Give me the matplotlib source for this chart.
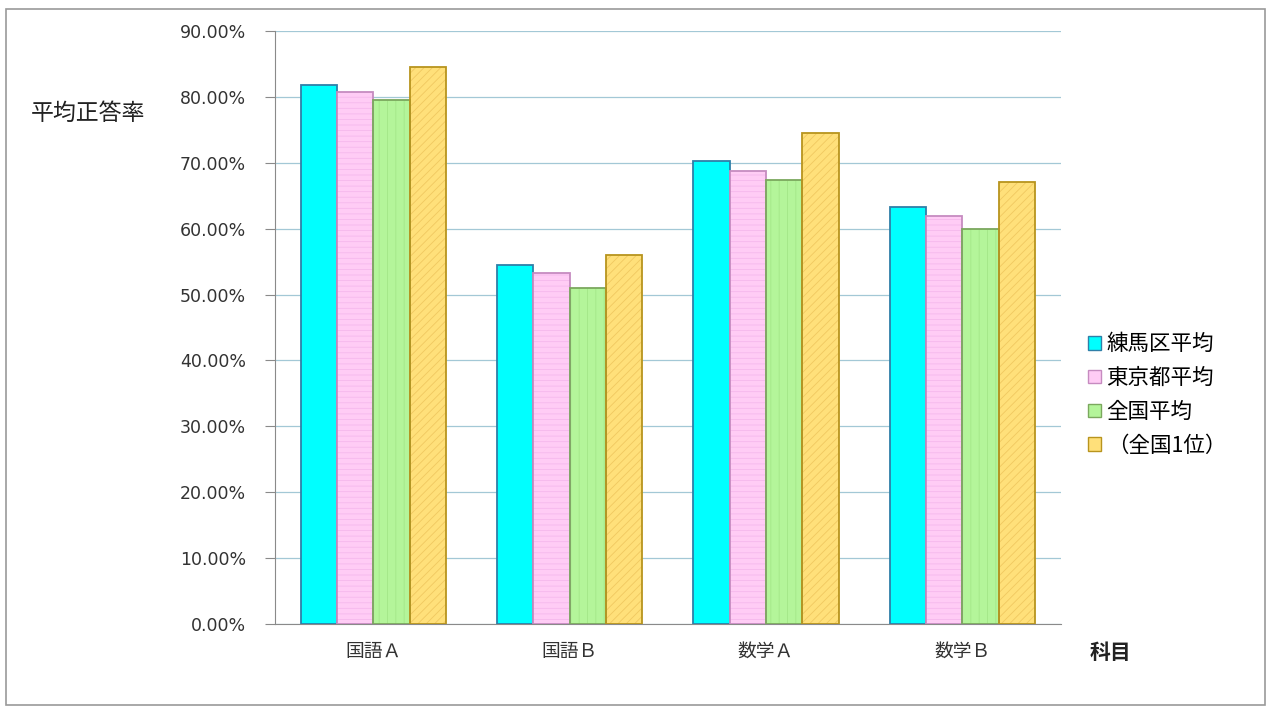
import numpy as np
import matplotlib
matplotlib.use("Agg")
import matplotlib.pyplot as plt
from matplotlib.patches import Rectangle, Patch
from matplotlib.ticker import FuncFormatter

plt.rcParams['font.family'] = ['Noto Sans CJK JP', 'DejaVu Sans']
plt.rcParams['hatch.linewidth'] = 0.6

# ===== データ =====
subjects = ["国語Ａ", "国語Ｂ", "数学Ａ", "数学Ｂ"]
series_names = ["練馬区平均", "東京都平均", "全国平均", "（全国1位）"]
nerima = [81.8, 54.5, 70.3, 63.3]
tokyo = [80.7, 53.3, 68.7, 61.9]
zenkoku = [79.5, 51.0, 67.4, 59.9]
top1 = [84.5, 56.0, 74.5, 67.1]

# 系列ごとの色・ハッチ
FACE = ["#00FFFF", "#FFCCF5", "#B4F59A", "#FFE07A"]
EDGE = ["#2F7FA8", "#C68BC0", "#7BA85E", "#B8941E"]
HATCH_COL = ["#00FFFF", "#F5B8EC", "#A3E688", "#F0C860"]
HATCH = [None, "---", "||", "////"]

fig = plt.figure(figsize=(12.71, 7.12), dpi=100)
fig.patches.append(Rectangle((0.005, 0.01), 0.99, 0.978, transform=fig.transFigure,
                             fill=False, edgecolor="#9a9a9a", linewidth=1.2))
ax = fig.add_axes([0.2164, 0.1236, 0.6180, 0.8329])

x = np.arange(len(subjects))
w = 0.185
values = [nerima, tokyo, zenkoku, top1]
for i, (vals, name) in enumerate(zip(values, series_names)):
    pos = x + (i - 1.5) * w
    if HATCH[i] is None:
        ax.bar(pos, vals, width=w, color=FACE[i], edgecolor=EDGE[i],
               linewidth=1.3, zorder=3)
    else:
        # ハッチの色は edgecolor に従うので、塗り+ハッチと枠を分けて描く
        ax.bar(pos, vals, width=w, color=FACE[i], edgecolor=HATCH_COL[i],
               linewidth=0, hatch=HATCH[i], zorder=3)
        ax.bar(pos, vals, width=w, fill=False, edgecolor=EDGE[i],
               linewidth=1.3, zorder=4)

ax.set_xlim(-0.5, len(subjects) - 0.5)
ax.set_ylim(0, 90)
ax.set_yticks(np.arange(0, 91, 10))
ax.yaxis.set_major_formatter(FuncFormatter(lambda v, p: f"{v:.2f}%"))
ax.set_xticks(x, subjects)
ax.tick_params(axis="x", length=0, pad=12, labelsize=13.5, colors="#333333")
ax.tick_params(axis="y", length=7, width=0.8, color="#8a8a8a", pad=14,
               labelcolor="#333333")
for lab in ax.get_yticklabels():
    lab.set_fontfamily("DejaVu Sans")
    lab.set_fontsize(12.5)

ax.grid(True, axis="y", color="#a3c8d6", linewidth=0.9)
ax.set_axisbelow(True)
for s in ["top", "right"]:
    ax.spines[s].set_visible(False)
ax.spines["left"].set_color("#8a8a8a")
ax.spines["bottom"].set_color("#8a8a8a")

fig.text(0.024, 0.84, "平均正答率", fontsize=16.5, color="#222222",
         ha="left", va="center")
fig.text(0.857, 0.084, "科目", fontsize=15, fontweight="bold",
         color="#222222", ha="left", va="center")

# 凡例
handles = [Patch(facecolor=FACE[i], edgecolor=EDGE[i], linewidth=1.0)
           for i in range(4)]
fig.legend(handles, series_names, loc="center left",
           bbox_to_anchor=(0.841, 0.445), frameon=False, fontsize=15.5,
           handlelength=0.6, handleheight=0.6, handletextpad=0.25,
           labelspacing=0.55)

fig.savefig("out.png", dpi=100)
